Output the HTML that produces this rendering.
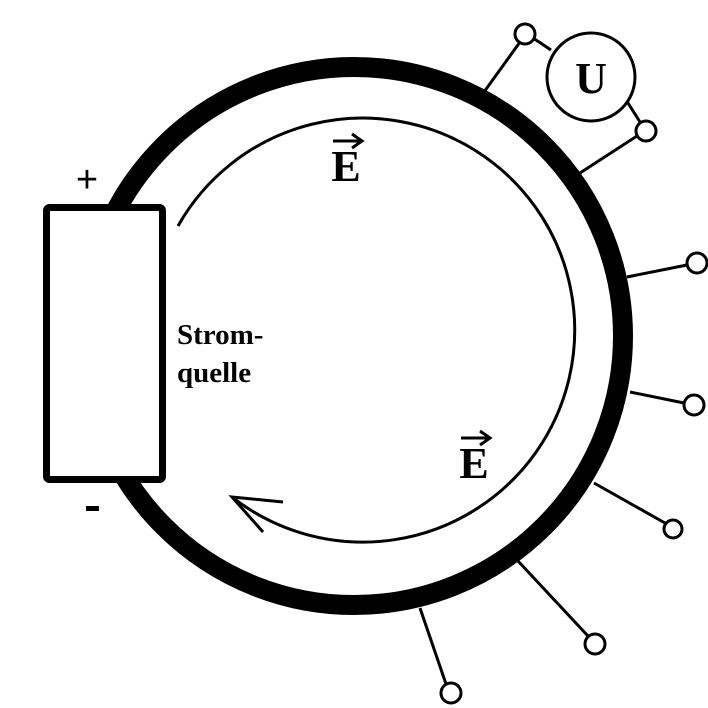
<!DOCTYPE html>
<html><head><style>body{margin:0;background:#fff}svg{display:block}</style></head><body>
<svg width="708" height="708" viewBox="0 0 708 708" xmlns="http://www.w3.org/2000/svg" font-family="Liberation Serif, serif">
<circle cx="354" cy="336" r="269" fill="none" stroke="#000" stroke-width="20"/>
<rect x="46.5" y="207.5" width="116" height="272" rx="3" fill="#fff" stroke="#000" stroke-width="7"/>
<path d="M178 226 A212 212 0 1 1 232 497" fill="none" stroke="#000" stroke-width="3"/>
<path d="M283 502 L232 497 L263 532" fill="none" stroke="#000" stroke-width="3"/>
<g stroke="#000" stroke-width="3" fill="none">
<line x1="484" y1="92" x2="520" y2="42"/>
<line x1="551" y1="50" x2="533" y2="38"/>
<line x1="628" y1="103" x2="640" y2="122"/>
<line x1="580" y1="173" x2="637" y2="136"/>
<line x1="627" y1="277" x2="687" y2="265"/>
<line x1="630" y1="392" x2="684" y2="403"/>
<line x1="594" y1="483" x2="665" y2="523"/>
<line x1="518" y1="561" x2="588" y2="636"/>
<line x1="420" y1="608" x2="446" y2="684"/>
<circle cx="591" cy="77" r="44"/>
</g>
<g stroke="#000" stroke-width="3" fill="#fff">
<circle cx="525" cy="34" r="10"/>
<circle cx="646" cy="131" r="10"/>
<circle cx="697" cy="263" r="10"/>
<circle cx="694" cy="405" r="10"/>
<circle cx="673" cy="529" r="9"/>
<circle cx="595" cy="644" r="10"/>
<circle cx="451" cy="693" r="10"/>
</g>
<text x="591" y="93" font-size="44" font-weight="bold" text-anchor="middle">U</text>
<text x="346" y="181" font-size="44" font-weight="bold" text-anchor="middle">E</text>
<path d="M333 141 H361 M352 134 L362 141 L352 148" fill="none" stroke="#000" stroke-width="3"/>
<text x="474" y="478" font-size="44" font-weight="bold" text-anchor="middle">E</text>
<path d="M461 438 H489 M480 431 L490 438 L480 445" fill="none" stroke="#000" stroke-width="3"/>
<text x="177" y="344" font-size="29" font-weight="bold">Strom-</text>
<text x="177" y="382" font-size="29" font-weight="bold">quelle</text>
<text x="87" y="192" font-size="38" text-anchor="middle" font-family="Liberation Sans, sans-serif">+</text>
<rect x="86" y="506" width="13" height="5" fill="#000"/>
</svg>
</body></html>
